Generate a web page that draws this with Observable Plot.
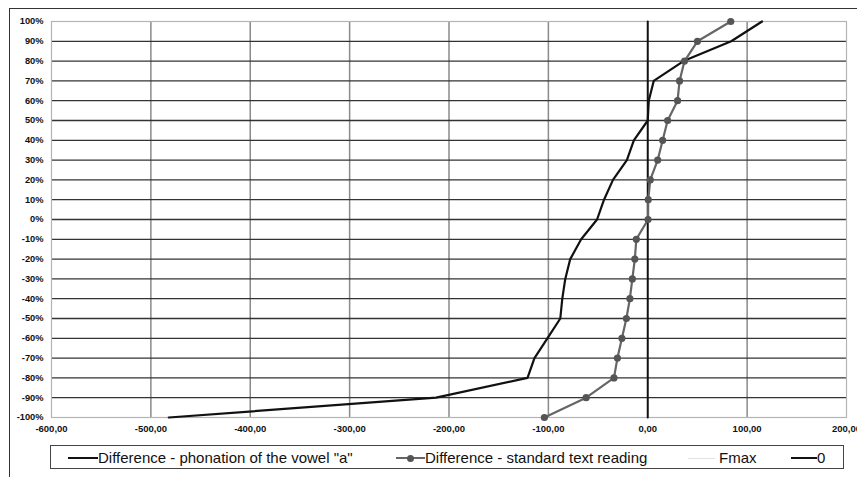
<!DOCTYPE html>
<html>
<head>
<meta charset="utf-8">
<script src="https://cdn.jsdelivr.net/npm/d3@7"></script>
<script src="https://cdn.jsdelivr.net/npm/@observablehq/plot@0.6"></script>
<style>
  html, body { margin: 0; padding: 0; background: #fff; }
  #wrap { position: relative; width: 857px; height: 477px; overflow: hidden; font-family: "Liberation Sans", Arial, sans-serif; }
  #outer { position: absolute; left: 9px; top: 8px; width: 900px; height: 500px; border-left: 1.5px solid #333; border-top: 1.5px solid #333; }
  #chart { position: absolute; left: 0; top: 0; }
  #legend { position: absolute; left: 50px; top: 445px; width: 794px; height: 24px; border: 1.5px solid #444; box-sizing: border-box; }
  .lg-line { position: absolute; height: 2px; }
  .lg-dot { position: absolute; width: 7px; height: 7px; border-radius: 50%; background: #555; }
  .lg-text { position: absolute; font-size: 15px; color: #111; line-height: 15px; white-space: nowrap; }
</style>
</head>
<body>
<div id="wrap">
  <div id="outer"></div>
  <div id="chart"></div>
  <div id="legend"></div>
</div>
<script>
// Percentile levels (%)
const levels = [-100, -90, -80, -70, -60, -50, -40, -30, -20, -10, 0, 10, 20, 30, 40, 50, 60, 70, 80, 90, 100];
// Difference - phonation of the vowel "a"
const phonation = [-482, -213, -121, -114, -101, -88, -86, -83, -78, -67, -51, -44, -35, -21, -14, 0, 1, 6, 36, 84, 115];
// Difference - standard text reading
const reading = [-104, -62, -34, -30.5, -26, -21.5, -18, -15.5, -13, -11.5, 0.3, 0.5, 2.5, 10, 15, 20, 30, 32, 37, 50, 83.5];
// "0" series
const zeroLine = [{x: 0, y: -100}, {x: 0, y: 100}];

const xTicks = [-600, -500, -400, -300, -200, -100, 0, 100, 200];
const xGrid = [-500, -400, -300, -200, -100, 100];
const yTicks = ["100%", "90%", "80%", "70%", "60%", "50%", "40%", "30%", "20%", "10%", "0%", "-10%", "-20%", "-30%", "-40%", "-50%", "-60%", "-70%", "-80%", "-90%", "-100%"];
const yGrid = [-90, -80, -70, -60, -50, -40, -30, -20, -10, 0, 10, 20, 30, 40, 50, 60, 70, 80, 90];

const legendItems = [
  {label: 'Difference - phonation of the vowel "a"', color: "#111", width: 2, x0: 68, x1: 98, tx: 98, dot: false},
  {label: "Difference - standard text reading", color: "#666", width: 2, x0: 396, x1: 425, tx: 425, dot: true},
  {label: "Fmax", color: "#e2e2e2", width: 1, x0: 688, x1: 715, tx: 719, dot: false},
  {label: "0", color: "#111", width: 2, x0: 791, x1: 817, tx: 817, dot: false}
];

const phonData = levels.map((y, i) => ({x: phonation[i], y}));
const readData = levels.map((y, i) => ({x: reading[i], y}));
const yLabelData = yTicks.map(t => ({y: parseFloat(t), label: t}));

const fmt = d => d.toFixed(2).replace(".", ",");

const chart = Plot.plot({
  width: 857,
  height: 440,
  marginTop: 21,
  marginBottom: 23,
  marginLeft: 51,
  marginRight: 11,
  style: {fontFamily: "'Liberation Sans', Arial, sans-serif", background: "transparent"},
  x: {domain: [-600, 200], label: null},
  y: {domain: [-100, 100], label: null, axis: null},
  marks: [
    Plot.ruleX(xGrid, {stroke: "#8a8a8a", strokeWidth: 1.5}),
    Plot.ruleY(yGrid, {stroke: "#333", strokeWidth: 1.3}),
    Plot.frame({stroke: "#b4b4b4", strokeWidth: 1.2}),
    Plot.line(zeroLine, {x: "x", y: "y", stroke: "#111", strokeWidth: 2}),
    Plot.line(phonData, {x: "x", y: "y", stroke: "#111", strokeWidth: 2.2}),
    Plot.line(readData, {x: "x", y: "y", stroke: "#666", strokeWidth: 2.2}),
    Plot.dot(readData, {x: "x", y: "y", r: 3.6, fill: "#555", stroke: "none"}),
    Plot.axisX({ticks: xTicks, tickFormat: fmt, tickSize: 0, tickPadding: 8, fontSize: 9.5, fontWeight: "bold", fill: "#111", label: null}),
    Plot.text(yLabelData, {x: () => -600, y: "y", text: "label", dx: -8, textAnchor: "end", fontSize: 9.3, fontWeight: "bold", fill: "#111"})
  ]
});
document.getElementById("chart").appendChild(chart);

const wrap = document.getElementById("wrap");
legendItems.forEach(it => {
  const ln = document.createElement("div");
  ln.className = "lg-line";
  ln.style.left = it.x0 + "px";
  ln.style.width = (it.x1 - it.x0) + "px";
  ln.style.top = (458 - it.width / 2) + "px";
  ln.style.height = it.width + "px";
  ln.style.background = it.color;
  wrap.appendChild(ln);
  if (it.dot) {
    const d = document.createElement("div");
    d.className = "lg-dot";
    d.style.left = ((it.x0 + it.x1) / 2 - 3.5) + "px";
    d.style.top = (458 - 3.5) + "px";
    wrap.appendChild(d);
  }
  const t = document.createElement("div");
  t.className = "lg-text";
  t.textContent = it.label;
  t.style.left = it.tx + "px";
  t.style.top = (458 - 8) + "px";
  wrap.appendChild(t);
});
</script>
</body>
</html>
